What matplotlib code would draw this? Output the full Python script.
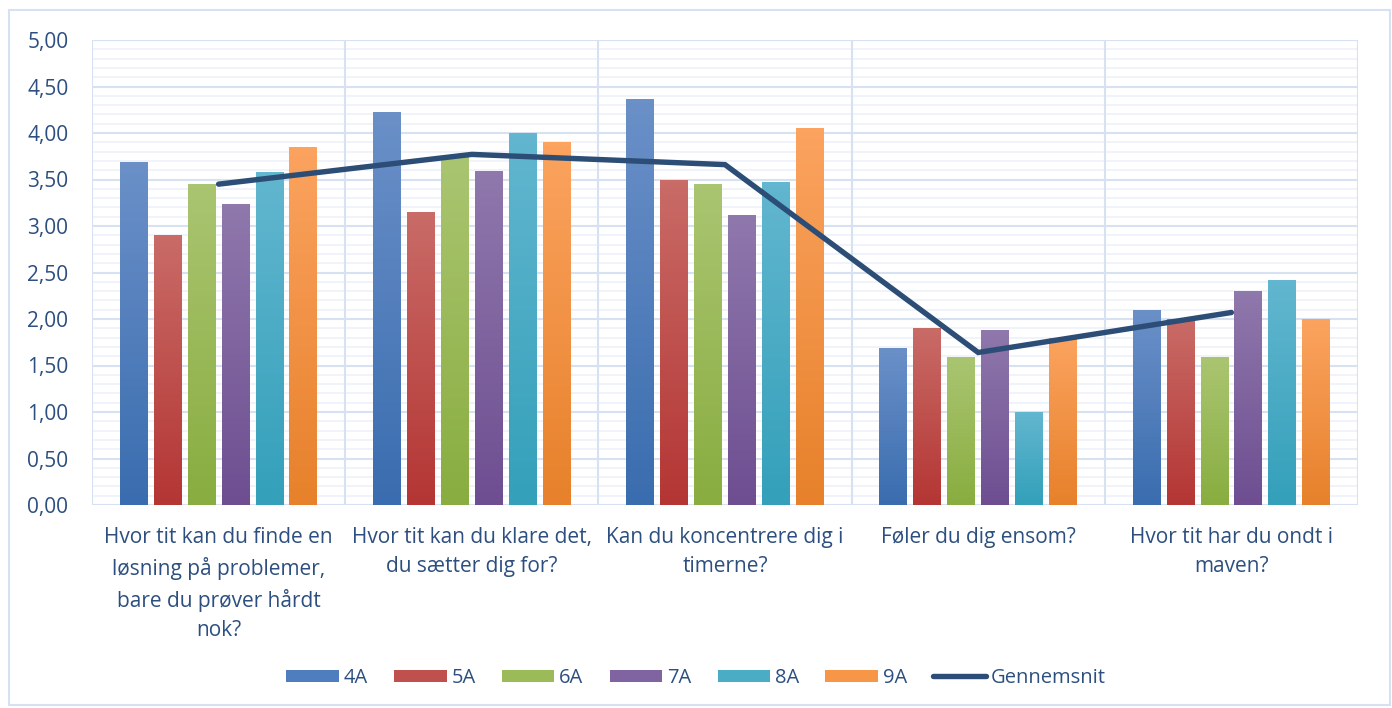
import matplotlib
matplotlib.use("Agg")
import matplotlib.pyplot as plt
import numpy as np
from matplotlib.colors import LinearSegmentedColormap
from matplotlib.patches import Rectangle, Patch
from matplotlib.lines import Line2D

categories = [
    "Hvor tit kan du finde en\nløsning på problemer,\nbare du prøver hårdt\nnok?",
    "Hvor tit kan du klare det,\ndu sætter dig for?",
    "Kan du koncentrere dig i\ntimerne?",
    "Føler du dig ensom?",
    "Hvor tit har du ondt i\nmaven?",
]
series_names = ["4A", "5A", "6A", "7A", "8A", "9A"]
values_4A = [3.69, 4.23, 4.37, 1.69, 2.10]
values_5A = [2.90, 3.15, 3.50, 1.90, 2.00]
values_6A = [3.45, 3.75, 3.45, 1.59, 1.59]
values_7A = [3.24, 3.59, 3.12, 1.88, 2.30]
values_8A = [3.58, 4.00, 3.47, 1.00, 2.42]
values_9A = [3.85, 3.90, 4.05, 1.80, 2.00]
gennemsnit = [3.45, 3.77, 3.66, 1.64, 2.07]
y_ticks = [0, 0.5, 1.0, 1.5, 2.0, 2.5, 3.0, 3.5, 4.0, 4.5, 5.0]

series_values = [values_4A, values_5A, values_6A, values_7A, values_8A, values_9A]
top_colors = ["#6B90C8", "#C96B67", "#AAC571", "#8F78AC", "#62B6CF", "#FBA35F"]
bot_colors = ["#3A6DAF", "#B43634", "#89AD40", "#6E4E91", "#34A0BA", "#E7812B"]
mid_colors = ["#4F7EBE", "#C0504D", "#9BBB59", "#8064A2", "#4BACC6", "#F79646"]

text_color = "#2C4F80"
grid_major = "#D6E2F1"
grid_minor = "#EDF2F9"

fig = plt.figure(figsize=(13.92, 7.08), dpi=100)
plt.rcParams['font.family'] = ['Open Sans', 'DejaVu Sans']
ax = fig.add_axes([92/1392, 1-505/708, (1358-92)/1392, (505-40)/708])

n = len(categories)
x = np.arange(n)
pitch = 0.134
width = 0.11

for i, (vals, tc, bc) in enumerate(zip(series_values, top_colors, bot_colors)):
    offs = (i - 2.5) * pitch
    bars = ax.bar(x + offs, vals, width=width, color=bc, zorder=3, linewidth=0)
    cmap = LinearSegmentedColormap.from_list("g%d" % i, [bc, tc])
    grad = np.linspace(0, 1, 64).reshape(-1, 1)
    for b in bars:
        bx, by = b.get_x(), b.get_y()
        bw, bh = b.get_width(), b.get_height()
        im = ax.imshow(grad, cmap=cmap, origin="lower", aspect="auto",
                       extent=[bx, bx + bw, by, by + bh], zorder=3.5,
                       interpolation="bilinear")
        im.set_clip_path(b)

ax.plot(x, gennemsnit, color="#2C4D75", lw=3.9, zorder=5, solid_capstyle="round",
        solid_joinstyle="miter")

ax.set_xlim(-0.5, n - 0.5)
ax.set_ylim(0, 5)

# gridlines
for v in np.arange(0.1, 5.0, 0.1):
    if abs(round(v * 2) - v * 2) > 1e-6:
        ax.axhline(v, color=grid_minor, lw=1.2, zorder=1)
for v in y_ticks:
    ax.axhline(v, color=grid_major, lw=1.5, zorder=1.5)
for b in np.arange(-0.5, n, 1.0):
    ax.axvline(b, color=grid_major, lw=1.5, zorder=1.5)

ax.set_yticks(y_ticks)
ax.set_yticklabels([("%.2f" % v).replace(".", ",") for v in y_ticks],
                   fontsize=15, color=text_color)
ax.set_xticks(x)
ax.set_xticklabels(categories, fontsize=15, color=text_color, linespacing=1.5,
                   va="top")
ax.tick_params(axis="both", length=0)
ax.tick_params(axis="y", pad=17)
ax.tick_params(axis="x", pad=16)
for s in ax.spines.values():
    s.set_visible(False)

handles = [Patch(facecolor=c, edgecolor="none") for c in mid_colors]
handles.append(Line2D([0], [0], color="#2C4D75", lw=3.9, solid_capstyle="round"))
leg = fig.legend(handles, series_names + ["Gennemsnit"], loc="center",
                 bbox_to_anchor=(0.5, 1 - 678/708), ncol=7, frameon=False,
                 fontsize=14.5, handlelength=2.6, handleheight=0.6,
                 columnspacing=1.3, handletextpad=0.25)
for t in leg.get_texts():
    t.set_color(text_color)

fig.patches.append(Rectangle((9/1392, 3/708), (1390-9)/1392, (698-3)/708,
                             transform=fig.transFigure, fill=False,
                             edgecolor="#D6E2F1", lw=1.5))

fig.savefig("out.png", dpi=100)
